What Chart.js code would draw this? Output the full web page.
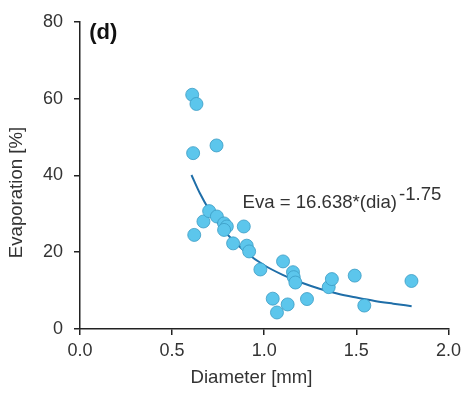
<!DOCTYPE html>
<html lang="en">
<head>
    <meta charset="UTF-8">
    <title>Evaporation vs diameter</title>
    <script src="https://cdn.jsdelivr.net/npm/chart.js"></script>
    <style>
        html, body { margin: 0; padding: 0; background: #fff; }
        #wrap { width: 466px; height: 396px; }
    </style>
</head>
<body>
    <div id="wrap"><canvas id="evaChart" width="466" height="396"></canvas></div>

    <script>
        // measured points (diameter in mm, evaporation in %)
        const diameter = [0.609, 0.632, 0.614, 0.741, 0.620, 0.670, 0.701, 0.743, 0.782, 0.797,
                          0.782, 0.831, 0.889, 0.905, 0.918, 0.979, 1.046, 1.069, 1.102, 1.127,
                          1.156, 1.160, 1.169, 1.232, 1.350, 1.367, 1.491, 1.543, 1.799];
        const evaporation = [61.0, 58.6, 45.8, 47.8, 24.5, 28.0, 30.7, 29.3, 27.5, 26.7,
                             25.8, 22.3, 26.7, 21.7, 20.2, 15.5, 7.9, 4.3, 17.6, 6.4,
                             14.8, 13.5, 12.1, 7.8, 10.9, 13.0, 13.9, 6.1, 12.5];

        // fitted curve
        const fitX = [0.605, 0.65, 0.7, 0.75, 0.8, 0.9, 1.0, 1.1, 1.2, 1.3, 1.4, 1.5, 1.6, 1.7, 1.8];
        const fitY = [40.1, 35.4, 31.1, 27.5, 24.6, 20.0, 16.6, 14.1, 12.1, 10.5, 9.2, 8.2, 7.3, 6.6, 5.95];

        const xTicks = [0, 0.5, 1.0, 1.5, 2.0];
        const yTicks = [0, 20, 40, 60, 80];

        const FONT = "'Liberation Sans', Arial, sans-serif";
        const TEXT = '#333';

        const points = diameter.map((d, i) => ({ x: d, y: evaporation[i] }));
        const curve = fitX.map((d, i) => ({ x: d, y: fitY[i] }));

        // axis titles, panel label and equation
        const labels = {
            id: 'labels',
            afterDraw(chart) {
                const { ctx, scales } = chart;
                ctx.save();

                ctx.fillStyle = TEXT;
                ctx.font = "18.6px " + FONT;
                ctx.textAlign = 'center';
                ctx.textBaseline = 'middle';
                ctx.fillText('Diameter [mm]', 251.5, 378);

                ctx.save();
                ctx.translate(17, 192.5);
                ctx.rotate(-Math.PI / 2);
                ctx.fillText('Evaporation [%]', 0, 0);
                ctx.restore();

                ctx.textAlign = 'left';
                ctx.textBaseline = 'alphabetic';
                ctx.fillStyle = '#111';
                ctx.font = "bold 22px " + FONT;
                ctx.fillText('(d)', scales.x.getPixelForValue(0.05), scales.y.getPixelForValue(75.5));

                ctx.fillStyle = TEXT;
                ctx.font = "18.6px " + FONT;
                const ex = scales.x.getPixelForValue(0.882);
                const ey = scales.y.getPixelForValue(31.6);
                const main = 'Eva = 16.638*(dia)';
                ctx.fillText(main, ex, ey);
                const w = ctx.measureText(main).width;
                ctx.fillText('-1.75', ex + w + 2, ey - 8);
                ctx.restore();
            }
        };

        new Chart(document.getElementById('evaChart'), {
            type: 'scatter',
            data: {
                datasets: [{
                    label: 'fit',
                    data: curve,
                    showLine: true,
                    borderColor: '#1f6ea8',
                    borderWidth: 2,
                    pointRadius: 0,
                    cubicInterpolationMode: 'monotone',
                    order: 1
                }, {
                    label: 'data',
                    data: points,
                    backgroundColor: '#5cc6ec',
                    borderColor: '#3b9cc4',
                    borderWidth: 0.8,
                    pointRadius: 6.5,
                    order: 0
                }]
            },
            options: {
                responsive: false,
                animation: false,
                layout: { padding: { top: 19, right: 17, left: 0, bottom: 0 } },
                plugins: { legend: { display: false }, tooltip: { enabled: false } },
                scales: {
                    x: {
                        type: 'linear',
                        min: 0,
                        max: 2,
                        afterBuildTicks: s => { s.ticks = xTicks.map(v => ({ value: v })); },
                        afterFit: s => { s.height = 67; },
                        ticks: {
                            callback: v => Number(v).toFixed(1),
                            color: TEXT,
                            font: { family: FONT, size: 18 },
                            padding: 5,
                            maxRotation: 0
                        },
                        grid: { drawOnChartArea: false, tickLength: 6, color: '#222', lineWidth: 1.5 },
                        border: { display: true, color: '#222', width: 1.5 },
                        title: { display: false }
                    },
                    y: {
                        type: 'linear',
                        min: 0,
                        max: 80,
                        afterBuildTicks: s => { s.ticks = yTicks.map(v => ({ value: v })); },
                        afterFit: s => { s.width = 80; },
                        ticks: {
                            color: TEXT,
                            font: { family: FONT, size: 18 },
                            padding: 11
                        },
                        grid: { drawOnChartArea: false, tickLength: 6, color: '#222', lineWidth: 1.5 },
                        border: { display: true, color: '#222', width: 1.5 },
                        title: { display: false }
                    }
                }
            },
            plugins: [labels]
        });
    </script>
</body>
</html>
